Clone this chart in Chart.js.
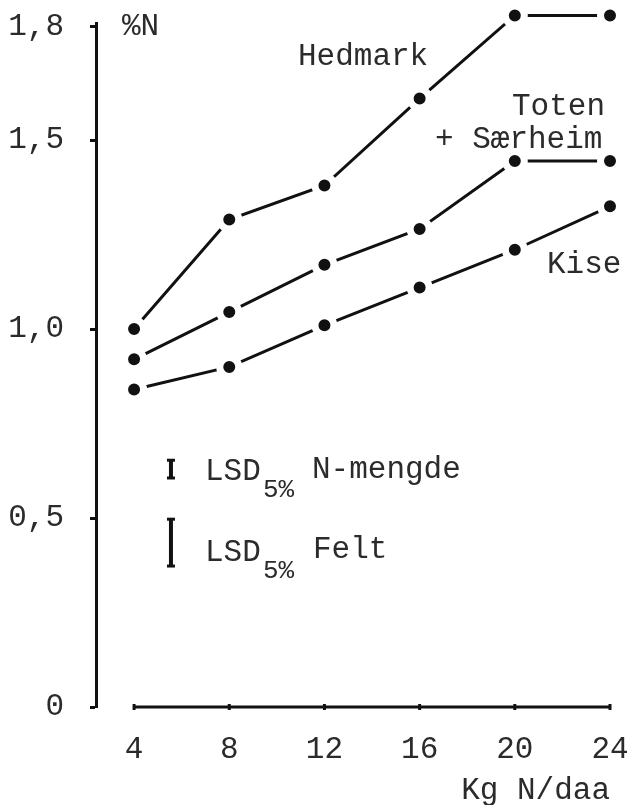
<!DOCTYPE html>
<html>
<head>
<meta charset="utf-8">
<script src="https://cdn.jsdelivr.net/npm/chart.js@4"></script>
<style>
  html, body { margin: 0; padding: 0; background: #fff; }
  canvas { display: block; }
</style>
</head>
<body>
<canvas id="chart" width="627" height="805"></canvas>
<script>
// kg N/daa
const doses = [4, 8, 12, 16, 20, 24];
// % N
const hedmark = [1.0, 1.29, 1.38, 1.61, 1.83, 1.83];
const totenSaerheim = [0.92, 1.045, 1.17, 1.265, 1.445, 1.445];
const kise = [0.84, 0.90, 1.01, 1.11, 1.21, 1.325];
const yTicks = [0, 0.5, 1.0, 1.5, 1.8];
// LSD bars (bottom, top) placed at x = lsdX
const lsdX = 5.55;
const lsdNmengde = [0.606, 0.653];
const lsdFelt = [0.373, 0.497];

const FONT = "'Liberation Mono', 'DejaVu Sans Mono', monospace";
const INK = "#2b2b2b";

function pts(ys) {
  return doses.map((x, i) => ({ x: x, y: ys[i] }));
}

function seriesStyle(ys) {
  // white ring round each dot leaves the small gap seen in the original
  return {
    data: pts(ys),
    borderColor: "#111",
    borderWidth: 3,
    pointRadius: 9.5,
    pointBackgroundColor: "#111",
    pointBorderColor: "#fff",
    pointBorderWidth: 7,
    clip: false,
  };
}

function lsdBar(vals) {
  return {
    data: vals.map((v) => ({ x: lsdX, y: v })),
    borderColor: "#111",
    borderWidth: 4,
    pointStyle: "line",
    pointRadius: 4,
    pointBorderWidth: 3,
    pointBorderColor: "#111",
  };
}

// free text on the plot
const notes = [
  { t: "%N", x: 122, y: 27 },
  { t: "Hedmark", x: 298, y: 57 },
  { t: "Toten", x: 512, y: 107 },
  { t: "+ Særheim", x: 435, y: 140 },
  { t: "Kise", x: 547, y: 265 },
  { t: "LSD", x: 205, y: 472 },
  { t: "5%", x: 263, y: 490, small: true },
  { t: "N-mengde", x: 312, y: 470 },
  { t: "LSD", x: 205, y: 553 },
  { t: "5%", x: 263, y: 571, small: true },
  { t: "Felt", x: 313, y: 550 },
];

const textPlugin = {
  id: "notes",
  afterDatasetsDraw(chart) {
    const ctx = chart.ctx;
    ctx.save();
    ctx.fillStyle = INK;
    ctx.textAlign = "left";
    ctx.textBaseline = "middle";
    notes.forEach((n) => {
      ctx.font = (n.small ? "26px " : "31px ") + FONT;
      ctx.fillText(n.t, n.x, n.y);
    });
    ctx.restore();
  },
};

const ctx = document.getElementById("chart").getContext("2d");

new Chart(ctx, {
  type: "line",
  data: {
    datasets: [
      seriesStyle(hedmark),
      seriesStyle(totenSaerheim),
      seriesStyle(kise),
      // baseline of the x axis with small tick bumps at each dose
      {
        data: doses.map((x) => ({ x: x, y: 0 })),
        borderColor: "#111",
        borderWidth: 3,
        pointStyle: "line",
        pointRotation: 90,
        pointRadius: 3,
        pointBorderWidth: 3,
        pointBorderColor: "#111",
        clip: false,
      },
      lsdBar(lsdNmengde),
      lsdBar(lsdFelt),
    ],
  },
  options: {
    responsive: false,
    animation: false,
    events: [],
    layout: { padding: { top: 23, right: 17, left: 0, bottom: 0 } },
    plugins: {
      legend: { display: false },
      tooltip: { enabled: false },
    },
    scales: {
      x: {
        type: "linear",
        min: 2.4,
        max: 24,
        afterBuildTicks: (s) => { s.ticks = doses.map((v) => ({ value: v })); },
        afterFit: (s) => {
          s.height = 98;
          s.paddingLeft = 0;
          s.paddingRight = 0;
        },
        border: { display: false },
        grid: { display: false, drawTicks: false },
        ticks: {
          color: INK,
          padding: 24,
          font: { family: FONT, size: 31 },
        },
        title: {
          display: true,
          text: "Kg N/daa",
          align: "end",
          color: INK,
          font: { family: FONT, size: 31 },
          padding: { top: 0, bottom: -4 },
        },
      },
      y: {
        type: "linear",
        min: 0,
        max: 1.81,
        afterBuildTicks: (s) => { s.ticks = yTicks.map((v) => ({ value: v })); },
        afterFit: (s) => {
          s.width = 96;
          s.paddingTop = 0;
          s.paddingBottom = 0;
        },
        border: { display: true, color: "#111", width: 3 },
        grid: {
          drawOnChartArea: false,
          drawTicks: true,
          tickLength: 6,
          tickColor: "#111",
          tickWidth: 3,
        },
        ticks: {
          color: INK,
          padding: 26,
          font: { family: FONT, size: 31 },
          callback: (v) => (v === 0 ? "0" : v.toFixed(1).replace(".", ",")),
        },
      },
    },
  },
  plugins: [textPlugin],
});
</script>
</body>
</html>
